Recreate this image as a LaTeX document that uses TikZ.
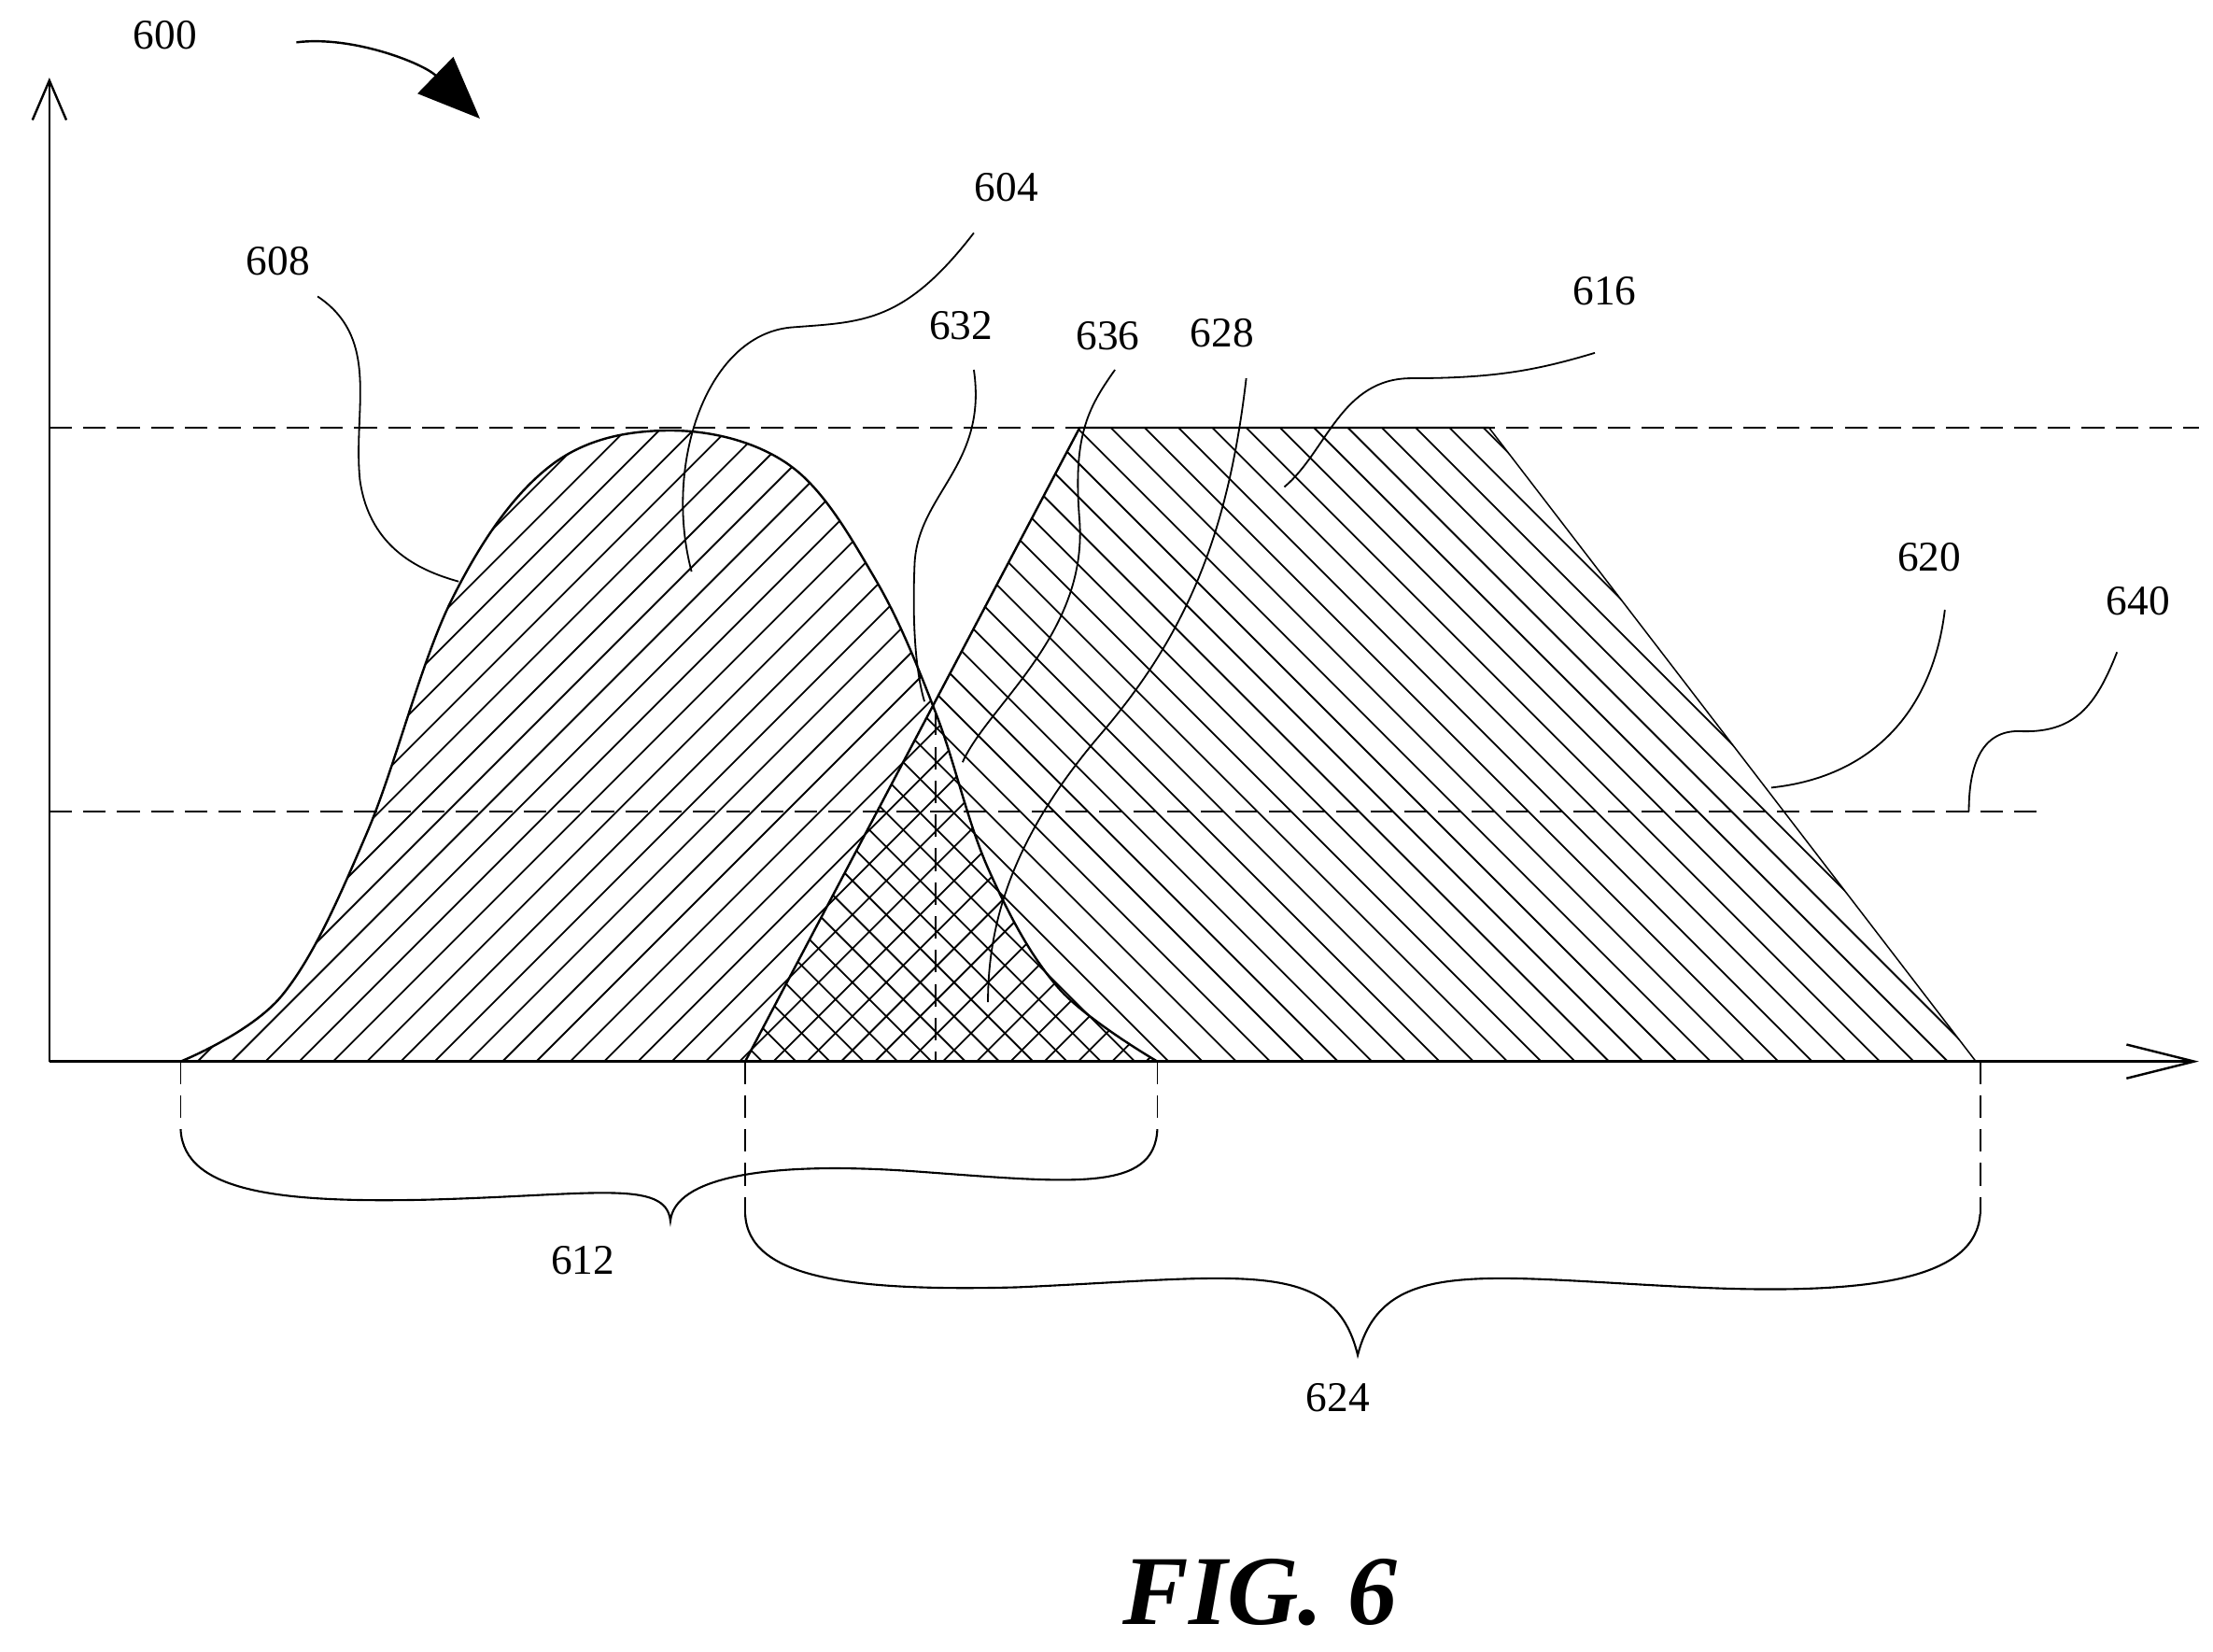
\documentclass[tikz,border=0pt]{standalone}
\usepackage{fontspec}
\setmainfont{Liberation Serif}
\usetikzlibrary{arrows.meta}
\begin{document}
\begin{tikzpicture}[x=0.5pt,y=-0.5pt,
 lbl/.style={font=\fontsize{15}{15}\selectfont},
 lead/.style={line width=0.6pt},
 dsh/.style={dash pattern=on 8pt off 4pt,line width=0.6pt},
 hat/.style={line width=0.6pt}]
\useasboundingbox (0,0) rectangle (1568,1170);
% axes
\draw[line width=0.8pt,-{Straight Barb[length=14pt,width=12pt]}] (35,752) -- (35,55);
\draw[line width=0.8pt,-{Straight Barb[length=24pt,width=12pt]}] (35,752) -- (1558,752);
% hatching
\def\bell{plot[smooth,tension=0.6] coordinates {(128,752) (200,705) (260,590) (320,425) (390,330) (475,305) (560,330) (620,410) (663,505) (700,615) (750,700) (820,752)} -- cycle}
\begin{scope}
\clip \bell;
\foreach \c in {-900,-876,...,900} \draw[hat] (\c,760) -- ++(500,-500);
\end{scope}
\begin{scope}
\clip (528,752) -- (765,303) -- (1055,303) -- (1400,752) -- cycle;
\foreach \c in {500,524,...,1900} \draw[hat] (\c,760) -- ++(-500,-500);
\end{scope}
\draw[line width=0.8pt] \bell;
\draw[line width=0.8pt] (528,752) -- (765,303) -- (1055,303);
\draw[line width=0.5pt] (1055,303) -- (1400,752);
% dashed lines
\draw[dsh] (35,303) -- (1558,303);
\draw[dsh] (35,575) -- (1450,575);
\draw[dsh] (663,505) -- (663,752);
\draw[dsh] (128,752) -- (128,800);
\draw[dsh] (820,752) -- (820,800);
\draw[dsh] (528,752) -- (528,860);
\draw[dsh] (1403,752) -- (1403,860);
% braces
\draw[line width=0.7pt] (128,800) .. controls (130,845) and (200,852) .. (300,850) .. controls (420,847) and (472,835) .. (475,865)
  .. controls (478,835) and (540,822) .. (650,830) .. controls (760,838) and (818,845) .. (820,800);
\draw[line width=0.7pt] (528,860) .. controls (530,905) and (600,915) .. (720,912) .. controls (880,905) and (945,890) .. (962,960)
  .. controls (980,890) and (1050,905) .. (1200,912) .. controls (1330,918) and (1400,905) .. (1403,860);
% labels
\node[lbl] (l600) at (117,25) {600};
\node[lbl] (l604) at (713,133) {604};
\node[lbl] (l608) at (197,185) {608};
\node[lbl] (l632) at (681,231) {632};
\node[lbl] (l636) at (785,238) {636};
\node[lbl] (l628) at (866,236) {628};
\node[lbl] (l616) at (1137,206) {616};
\node[lbl] (l620) at (1367,395) {620};
\node[lbl] (l640) at (1515,426) {640};
\node[lbl] (l612) at (413,893) {612};
\node[lbl] (l624) at (948,990) {624};
\node[font=\fontsize{35}{35}\selectfont\bfseries\itshape] (fig) at (893,1128) {FIG. 6};
% leaders
\draw[line width=0.8pt,-{Triangle[length=22pt,width=18pt]}] (210,30) .. controls (250,25) and (300,45) .. (340,84);
\draw[lead] (690,165) .. controls (640,230) and (610,228) .. (560,232) .. controls (500,238) and (470,330) .. (490,405);
\draw[lead] (225,210) .. controls (270,240) and (250,290) .. (255,340) .. controls (262,390) and (300,405) .. (325,412);
\draw[lead] (690,262) .. controls (700,330) and (650,350) .. (648,400) .. controls (646,450) and (650,480) .. (655,497);
\draw[lead] (790,262) .. controls (770,290) and (760,310) .. (765,370) .. controls (770,450) and (700,500) .. (682,540);
\draw[lead] (883,268) .. controls (870,380) and (840,450) .. (780,520) .. controls (720,590) and (700,650) .. (700,710);
\draw[lead] (1130,250) .. controls (1090,262) and (1060,268) .. (1000,268) .. controls (950,268) and (940,320) .. (910,345);
\draw[lead] (1378,432) .. controls (1370,500) and (1330,550) .. (1255,558);
\draw[lead] (1500,462) .. controls (1485,500) and (1470,520) .. (1430,518) .. controls (1400,518) and (1395,550) .. (1395,575);
\end{tikzpicture}
\end{document}
